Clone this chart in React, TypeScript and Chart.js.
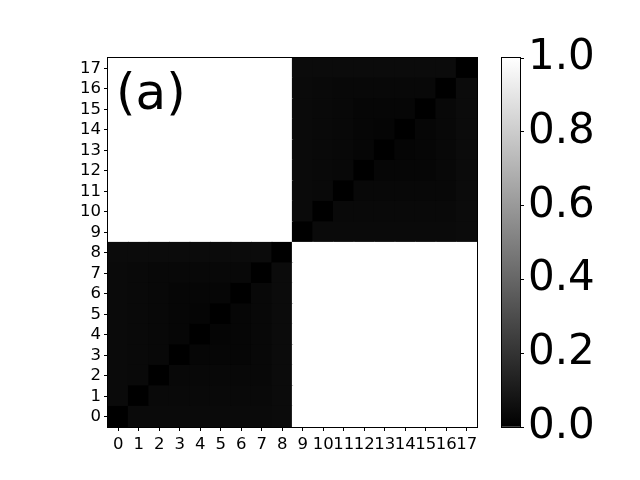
import React, { useEffect, useRef } from "react";
import { Chart, registerables } from "chart.js";

Chart.register(...registerables);

const xLabels = ["0","1","2","3","4","5","6","7","8","9","10","11","12","13","14","15","16","17"];
const yTicks = [0,1,2,3,4,5,6,7,8,9,10,11,12,13,14,15,16,17];
const colorbarTicks = [0, 0.2, 0.4, 0.6, 0.8, 1.0];
const panelLabel = "(a)";

// matrix[row y][col x], values 0..1 (gray colormap)
const matrix: number[][] = [
  [0,.04,.04,.04,.04,.04,.04,.04,.045, 1,1,1,1,1,1,1,1,1],
  [.04,0,.035,.035,.035,.035,.035,.035,.045, 1,1,1,1,1,1,1,1,1],
  [.04,.035,0,.03,.03,.03,.03,.03,.045, 1,1,1,1,1,1,1,1,1],
  [.04,.035,.03,0,.025,.025,.025,.03,.045, 1,1,1,1,1,1,1,1,1],
  [.04,.035,.03,.025,0,.02,.025,.03,.045, 1,1,1,1,1,1,1,1,1],
  [.04,.035,.03,.025,.02,0,.025,.03,.045, 1,1,1,1,1,1,1,1,1],
  [.04,.035,.03,.025,.025,.025,0,.03,.045, 1,1,1,1,1,1,1,1,1],
  [.04,.035,.03,.03,.03,.03,.03,0,.045, 1,1,1,1,1,1,1,1,1],
  [.045,.045,.045,.045,.045,.045,.045,.045,0, 1,1,1,1,1,1,1,1,1],
  [1,1,1,1,1,1,1,1,1, 0,.04,.04,.04,.04,.04,.04,.04,.045],
  [1,1,1,1,1,1,1,1,1, .04,0,.035,.035,.035,.035,.035,.035,.045],
  [1,1,1,1,1,1,1,1,1, .04,.035,0,.03,.03,.03,.03,.03,.045],
  [1,1,1,1,1,1,1,1,1, .04,.035,.03,0,.025,.025,.025,.03,.045],
  [1,1,1,1,1,1,1,1,1, .04,.035,.03,.025,0,.02,.025,.03,.045],
  [1,1,1,1,1,1,1,1,1, .04,.035,.03,.025,.02,0,.025,.03,.045],
  [1,1,1,1,1,1,1,1,1, .04,.035,.03,.025,.025,.025,0,.03,.045],
  [1,1,1,1,1,1,1,1,1, .04,.035,.03,.03,.03,.03,.03,0,.045],
  [1,1,1,1,1,1,1,1,1, .045,.045,.045,.045,.045,.045,.045,.045,0],
];

const FONT = "DejaVu Sans";

function gray(v: number) {
  const g = Math.round(v * 255);
  return `rgb(${g},${g},${g})`;
}

const framePlugin = {
  id: "frame",
  afterDraw(chart: any) {
    const { ctx, chartArea: a } = chart;
    ctx.save();
    ctx.strokeStyle = "#000";
    ctx.lineWidth = 1;
    ctx.strokeRect(Math.round(a.left) - 0.5, Math.round(a.top) - 0.5, Math.round(a.width) + 1, Math.round(a.height) + 1);
    ctx.restore();
  },
};

const labelPlugin = {
  id: "panelLabel",
  afterDraw(chart: any) {
    const { ctx, chartArea: a } = chart;
    ctx.save();
    ctx.fillStyle = "#000";
    ctx.font = `50px "${FONT}"`;
    ctx.textBaseline = "alphabetic";
    ctx.textAlign = "left";
    ctx.fillText(panelLabel, a.left + 8, a.top + 51);
    ctx.restore();
  },
};

export default function App() {
  const mainRef = useRef<HTMLCanvasElement>(null);
  const cbRef = useRef<HTMLCanvasElement>(null);

  useEffect(() => {
    const tickGrid = { offset: false, drawOnChartArea: false, drawTicks: true, tickLength: 4, color: "#000", lineWidth: 1 };
    const main = new Chart(mainRef.current as HTMLCanvasElement, {
      type: "bar",
      data: {
        labels: xLabels,
        datasets: matrix.map((row, r) => ({
          data: row.map(() => [yTicks[r] - 0.5, yTicks[r] + 0.5]),
          backgroundColor: row.map(gray),
          borderWidth: 0,
          barPercentage: 1,
          categoryPercentage: 1,
          grouped: false,
          inflateAmount: 0.6,
        })) as any,
      },
      options: {
        animation: false,
        responsive: false,
        maintainAspectRatio: false,
        layout: { padding: { left: 68, right: 163, top: 58, bottom: 20 } },
        plugins: { legend: { display: false }, tooltip: { enabled: false } },
        scales: {
          x: {
            type: "category",
            offset: true,
            grid: tickGrid,
            border: { display: false },
            ticks: { color: "#000", font: { family: FONT, size: 16.5 }, maxRotation: 0, minRotation: 0, autoSkip: false, padding: 4 },
            afterFit: (s: any) => { s.height = 33; },
          },
          y: {
            type: "linear",
            min: -0.5,
            max: 17.5,
            afterBuildTicks: (s: any) => { s.ticks = yTicks.map((v) => ({ value: v })); },
            grid: tickGrid,
            border: { display: false },
            ticks: { color: "#000", font: { family: FONT, size: 16.5 }, autoSkip: false, padding: 3 },
            afterFit: (s: any) => { s.width = 40; },
          },
        },
      } as any,
      plugins: [framePlugin, labelPlugin],
    });

    const cb = new Chart(cbRef.current as HTMLCanvasElement, {
      type: "bar",
      data: {
        labels: [""],
        datasets: [
          {
            data: [[colorbarTicks[0], colorbarTicks[colorbarTicks.length - 1]]] as any,
            backgroundColor: (c: any) => {
              const ca = c.chart.chartArea;
              if (!ca) return "#000";
              const g = c.chart.ctx.createLinearGradient(0, ca.bottom, 0, ca.top);
              g.addColorStop(0, gray(colorbarTicks[0]));
              g.addColorStop(1, gray(colorbarTicks[colorbarTicks.length - 1]));
              return g;
            },
            borderWidth: 0,
            barPercentage: 1,
            categoryPercentage: 1,
          },
        ],
      },
      options: {
        animation: false,
        responsive: false,
        maintainAspectRatio: false,
        layout: { padding: { left: 502, right: 0, top: 58, bottom: 53 } },
        plugins: { legend: { display: false }, tooltip: { enabled: false } },
        scales: {
          x: { display: false },
          y: {
            type: "linear",
            position: "right",
            min: 0,
            max: 1,
            afterBuildTicks: (s: any) => { s.ticks = colorbarTicks.map((v) => ({ value: v })); },
            grid: { drawOnChartArea: false, drawTicks: true, tickLength: 4, color: "#000", lineWidth: 1 },
            border: { display: false },
            ticks: {
              color: "#000",
              font: { family: FONT, size: 42 },
              padding: 4,
              autoSkip: false,
              callback: (v: any) => Number(v).toFixed(1),
            },
            afterFit: (s: any) => { s.width = 120; },
          },
        },
      } as any,
      plugins: [framePlugin],
    });

    return () => {
      main.destroy();
      cb.destroy();
    };
  }, []);

  return (
    <div style={{ position: "fixed", left: 0, top: 0, width: 640, height: 480, background: "#fff" }}>
      <canvas ref={mainRef} width={640} height={480} style={{ position: "absolute", left: 0, top: 0 }} />
      <canvas ref={cbRef} width={640} height={480} style={{ position: "absolute", left: 0, top: 0 }} />
    </div>
  );
}
